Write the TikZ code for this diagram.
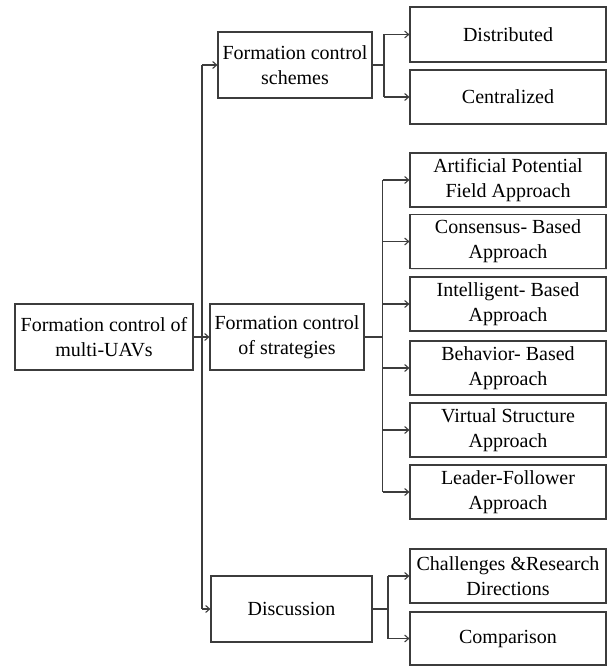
\documentclass[tikz,border=0pt]{standalone}
\usepackage{fontspec}
\setmainfont{Liberation Serif}
\usetikzlibrary{arrows.meta,shadows}
\definecolor{linegray}{HTML}{3C3C3C}
\begin{document}
\begin{tikzpicture}[x=1pt,y=-1pt,
  box/.style={draw=linegray, line width=1.1pt, fill=white, align=center,
    font=\fontsize{20}{25}\selectfont, inner sep=0pt,
    drop shadow={opacity=0.18, shadow xshift=1.2pt, shadow yshift=-1.2pt}},
  leaf/.style={box, minimum width=196pt, minimum height=54pt},
  mid/.style={box, minimum height=66pt},
  link/.style={draw=linegray, line width=1.1pt},
  arr/.style={link, -{Straight Barb[length=4pt,width=7pt]}}]
\useasboundingbox (0,0) rectangle (608,666);

% left and middle column
\node[mid, minimum width=178pt] (root) at (104,337) {Formation control of\\multi-UAVs};
\node[mid, minimum width=154pt] (fcs)  at (295,65)  {Formation control\\schemes};
\node[mid, minimum width=154pt] (fcos) at (287,337) {Formation control\\of strategies};
\node[mid, minimum width=161pt] (disc) at (291.5,609) {Discussion};

% right column
\node[leaf, minimum height=55pt] (dist) at (508,34.5) {Distributed};
\node[leaf] (cent) at (508,97)  {Centralized};
\node[leaf] (apf)  at (508,180) {Artificial Potential\\Field Approach};
\node[leaf] (cons) at (508,241.5) {Consensus- Based\\Approach};
\node[leaf] (intl) at (508,304) {Intelligent- Based\\Approach};
\node[leaf] (beh)  at (508,368) {Behavior- Based\\Approach};
\node[leaf] (vs)   at (508,430) {Virtual Structure\\Approach};
\node[leaf] (lf)   at (508,492) {Leader-Follower\\Approach};
\node[leaf] (chal) at (508,576) {Challenges \&Research\\Directions};
\node[leaf, minimum height=53pt] (comp) at (508,638.5) {Comparison};

% branch lines
\coordinate (trunk) at (202,0);
\coordinate (bfcs)  at (384,0);
\coordinate (bfcos) at (382.5,0);
\coordinate (bdisc) at (388,0);

% trunk from the root
\draw[link] (trunk |- fcs.west) -- (trunk |- disc.west);
\draw[arr] (trunk |- fcs.west) -- (fcs.west);
\draw[arr] (trunk |- disc.west) -- (disc.west);
\draw[arr] (root.east) -- (fcos.west);

% schemes
\draw[link] (fcs.east) -- (bfcs |- fcs.east);
\draw[link] (bfcs |- dist.west) -- (bfcs |- cent.west);
\foreach \n in {dist,cent} \draw[arr] (bfcs |- \n.west) -- (\n.west);

% strategies
\draw[link] (fcos.east) -- (bfcos |- fcos.east);
\draw[link] (bfcos |- apf.west) -- (bfcos |- lf.west);
\foreach \n in {apf,cons,intl,beh,vs,lf} \draw[arr] (bfcos |- \n.west) -- (\n.west);

% discussion
\draw[link] (disc.east) -- (bdisc |- disc.east);
\draw[link] (bdisc |- chal.west) -- (bdisc |- comp.west);
\foreach \n in {chal,comp} \draw[arr] (bdisc |- \n.west) -- (\n.west);
\end{tikzpicture}
\end{document}
